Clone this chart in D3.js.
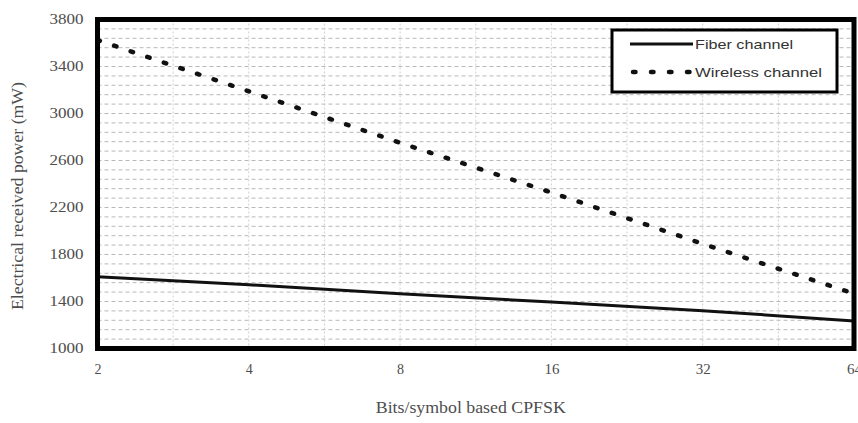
<!DOCTYPE html>
<html>
<head>
<meta charset="utf-8">
<script src="https://cdn.jsdelivr.net/npm/d3@7"></script>
<style>
  body { margin: 0; background: #fff; }
  svg { display: block; }
</style>
</head>
<body>
<svg id="chart"></svg>
<script>
// values
var bits = [2, 4, 8, 16, 32, 64];
var fiber = [1610, 1543, 1465, 1395, 1322, 1235];
var wireless = [3625, 3189, 2751, 2328, 1891, 1467];
var yTicks = [1000, 1400, 1800, 2200, 2600, 3000, 3400, 3800];
var seriesNames = ["Fiber channel", "Wireless channel"];

var screen = {width: 858, height: 423};
var plot = {left: 97.5, right: 854, top: 19.5, bottom: 348.5};

var svg = d3.select("#chart")
    .attr("width", screen.width)
    .attr("height", screen.height);

var xScale = d3.scaleLog().base(2)
    .domain([2, 64])
    .range([plot.left, plot.right]);
var yScale = d3.scaleLinear()
    .domain([1000, 3800])
    .range([plot.bottom, plot.top]);

// grid - dashed light lines, horizontal every 80, vertical every half octave
var grid = svg.append("g").attr("id", "grid");
grid.selectAll("line.h")
    .data(d3.range(1080, 3800, 80))
    .enter().append("line")
    .attr("class", "h")
    .attr("x1", plot.left).attr("x2", plot.right)
    .attr("y1", function(d){ return yScale(d); })
    .attr("y2", function(d){ return yScale(d); })
    .attr("stroke", "#b8b8b8")
    .attr("stroke-width", 1)
    .attr("stroke-dasharray", "4,3");
grid.selectAll("line.v")
    .data(d3.range(1, 10).map(function(k){ return Math.pow(2, 1 + k * 0.5); }))
    .enter().append("line")
    .attr("class", "v")
    .attr("y1", plot.top).attr("y2", plot.bottom)
    .attr("x1", function(d){ return xScale(d); })
    .attr("x2", function(d){ return xScale(d); })
    .attr("stroke", "#cfcfcf")
    .attr("stroke-width", 1)
    .attr("stroke-dasharray", "2,2");

// series
var lineGen = function(values){
    return d3.line()
        .x(function(d, i){ return xScale(bits[i]); })
        .y(function(d){ return yScale(d); })(values);
};
svg.append("path")
    .attr("d", lineGen(fiber))
    .attr("fill", "none")
    .attr("stroke", "#111")
    .attr("stroke-width", 3);
svg.append("path")
    .attr("d", lineGen(wireless))
    .attr("fill", "none")
    .attr("stroke", "#111")
    .attr("stroke-width", 4.5)
    .attr("stroke-linecap", "round")
    .attr("stroke-dasharray", "2.5,15");

// frame
svg.append("rect")
    .attr("x", plot.left).attr("y", plot.top)
    .attr("width", plot.right - plot.left)
    .attr("height", plot.bottom - plot.top)
    .attr("fill", "none")
    .attr("stroke", "#000")
    .attr("stroke-width", 5);

// axes
var yAxis = d3.axisLeft(yScale).tickValues(yTicks).tickSize(0).tickPadding(14)
    .tickFormat(d3.format("d"));
var gy = svg.append("g")
    .attr("transform", "translate(" + plot.left + ",0)")
    .call(yAxis);
gy.select(".domain").remove();
gy.selectAll("text")
    .attr("font-family", "Liberation Serif, Times New Roman, serif")
    .attr("font-size", 14)
    .attr("fill", "#4d4d4d")
    .attr("textLength", 34)
    .attr("lengthAdjust", "spacingAndGlyphs");

var xAxis = d3.axisBottom(xScale).tickValues(bits).tickSize(0).tickPadding(16)
    .tickFormat(d3.format("d"));
var gx = svg.append("g")
    .attr("transform", "translate(0," + plot.bottom + ")")
    .call(xAxis);
gx.select(".domain").remove();
gx.selectAll("text")
    .attr("font-family", "Liberation Serif, Times New Roman, serif")
    .attr("font-size", 14)
    .attr("fill", "#4d4d4d")
    .attr("textLength", function(d){ return d < 10 ? 7 : 15; })
    .attr("lengthAdjust", "spacingAndGlyphs");

// axis titles
svg.append("text")
    .attr("x", (plot.left + plot.right) / 2 - 5)
    .attr("y", 413)
    .attr("text-anchor", "middle")
    .attr("font-family", "Liberation Serif, Times New Roman, serif")
    .attr("font-size", 16)
    .attr("fill", "#4d4d4d")
    .attr("textLength", 190)
    .attr("lengthAdjust", "spacingAndGlyphs")
    .text("Bits/symbol based CPFSK");
svg.append("text")
    .attr("transform", "translate(23," + ((plot.top + plot.bottom) / 2 + 12) + ") rotate(-90)")
    .attr("text-anchor", "middle")
    .attr("font-family", "Liberation Serif, Times New Roman, serif")
    .attr("font-size", 16)
    .attr("fill", "#4d4d4d")
    .attr("textLength", 228)
    .attr("lengthAdjust", "spacingAndGlyphs")
    .text("Electrical received power (mW)");

// legend
var legend = svg.append("g").attr("id", "legend");
legend.append("rect")
    .attr("x", 612).attr("y", 30)
    .attr("width", 225).attr("height", 62)
    .attr("fill", "#fff")
    .attr("stroke", "#000")
    .attr("stroke-width", 3);
var rows = legend.selectAll("g.row")
    .data(seriesNames)
    .enter().append("g")
    .attr("class", "row")
    .attr("transform", function(d, i){ return "translate(0," + (44 + i * 28) + ")"; });
rows.append("line")
    .attr("x1", function(d, i){ return i === 0 ? 630 : 633; })
    .attr("x2", 693)
    .attr("stroke", "#111")
    .attr("stroke-width", function(d, i){ return i === 0 ? 3 : 4.5; })
    .attr("stroke-linecap", function(d, i){ return i === 0 ? "butt" : "round"; })
    .attr("stroke-dasharray", function(d, i){ return i === 0 ? null : "2.5,15.5"; });
rows.append("text")
    .attr("x", 695)
    .attr("dy", "0.35em")
    .attr("font-family", "Liberation Sans, Arial, sans-serif")
    .attr("font-size", 13)
    .attr("fill", "#333")
    .attr("textLength", function(d, i){ return i === 0 ? 98 : 127; })
    .attr("lengthAdjust", "spacingAndGlyphs")
    .text(function(d){ return d; });
</script>
</body>
</html>
